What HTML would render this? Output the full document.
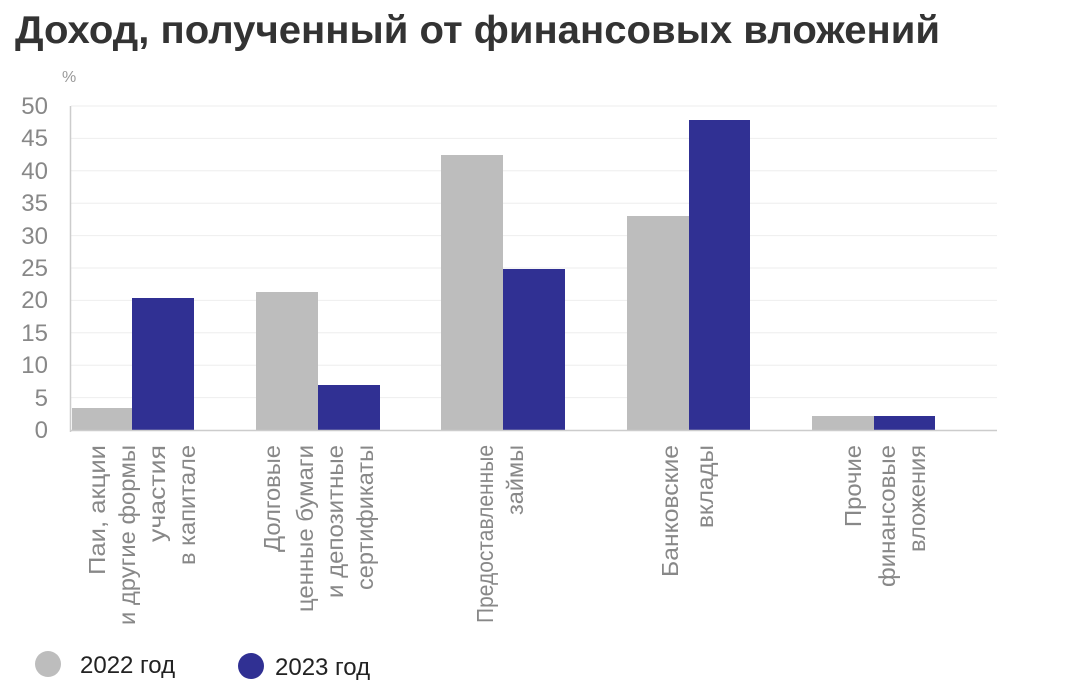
<!DOCTYPE html>
<html><head><meta charset="utf-8"><style>
body{margin:0;background:#fff;width:1080px;height:692px;overflow:hidden}
svg{display:block;font-family:"Liberation Sans",sans-serif}
</style></head><body>
<svg width="1080" height="692" viewBox="0 0 1080 692">
<text x="15" y="43" font-size="39" font-weight="bold" fill="#333" textLength="925" lengthAdjust="spacingAndGlyphs">Доход, полученный от финансовых вложений</text>
<text x="62" y="82" font-size="16" fill="#999">%</text>
<g stroke="#eee" stroke-width="1">
<line x1="71" x2="997" y1="106" y2="106"/><line x1="71" x2="997" y1="138.4" y2="138.4"/><line x1="71" x2="997" y1="170.8" y2="170.8"/><line x1="71" x2="997" y1="203.2" y2="203.2"/><line x1="71" x2="997" y1="235.6" y2="235.6"/><line x1="71" x2="997" y1="268" y2="268"/><line x1="71" x2="997" y1="300.4" y2="300.4"/><line x1="71" x2="997" y1="332.8" y2="332.8"/><line x1="71" x2="997" y1="365.2" y2="365.2"/><line x1="71" x2="997" y1="397.6" y2="397.6"/>
</g>
<g font-size="24" fill="#888" text-anchor="end">
<text x="48" y="114">50</text><text x="48" y="146">45</text><text x="48" y="179">40</text><text x="48" y="211">35</text><text x="48" y="244">30</text><text x="48" y="276">25</text><text x="48" y="308">20</text><text x="48" y="341">15</text><text x="48" y="373">10</text><text x="48" y="406">5</text><text x="48" y="438">0</text>
</g>
<g fill="#bdbdbd">
<rect x="72" y="408" width="60" height="22"/><rect x="256" y="292" width="62" height="138"/><rect x="441" y="155" width="62" height="275"/><rect x="627" y="216" width="62" height="214"/><rect x="812" y="416" width="62" height="14"/>
</g>
<g fill="#303093">
<rect x="132" y="298" width="62" height="132"/><rect x="318" y="385" width="62" height="45"/><rect x="503" y="269" width="62" height="161"/><rect x="689" y="120" width="61" height="310"/><rect x="874" y="416" width="61" height="14"/>
</g>
<line x1="71" x2="997" y1="430.5" y2="430.5" stroke="#ccc" stroke-width="1.5"/>
<line x1="70.5" x2="70.5" y1="106" y2="432" stroke="#ccc" stroke-width="1.5"/>
<g font-size="23.5" fill="#888" text-anchor="end">
<text transform="translate(105,445) rotate(-90)" textLength="130" lengthAdjust="spacingAndGlyphs">Паи, акции</text>
<text transform="translate(135,445) rotate(-90)" textLength="180" lengthAdjust="spacingAndGlyphs">и другие формы</text>
<text transform="translate(165,445) rotate(-90)" textLength="97" lengthAdjust="spacingAndGlyphs">участия</text>
<text transform="translate(195,445) rotate(-90)" textLength="120" lengthAdjust="spacingAndGlyphs">в капитале</text>
<text transform="translate(280,445) rotate(-90)" textLength="107" lengthAdjust="spacingAndGlyphs">Долговые</text>
<text transform="translate(313,445) rotate(-90)" textLength="167" lengthAdjust="spacingAndGlyphs">ценные бумаги</text>
<text transform="translate(343,445) rotate(-90)" textLength="153" lengthAdjust="spacingAndGlyphs">и депозитные</text>
<text transform="translate(373,445) rotate(-90)" textLength="145" lengthAdjust="spacingAndGlyphs">сертификаты</text>
<text transform="translate(493,445) rotate(-90)" textLength="178" lengthAdjust="spacingAndGlyphs">Предоставленные</text>
<text transform="translate(523,445) rotate(-90)" textLength="70" lengthAdjust="spacingAndGlyphs">займы</text>
<text transform="translate(678,445) rotate(-90)" textLength="132" lengthAdjust="spacingAndGlyphs">Банковские</text>
<text transform="translate(713,445) rotate(-90)" textLength="83" lengthAdjust="spacingAndGlyphs">вклады</text>
<text transform="translate(861,445) rotate(-90)" textLength="82" lengthAdjust="spacingAndGlyphs">Прочие</text>
<text transform="translate(895,445) rotate(-90)" textLength="142" lengthAdjust="spacingAndGlyphs">финансовые</text>
<text transform="translate(925,445) rotate(-90)" textLength="107" lengthAdjust="spacingAndGlyphs">вложения</text>
</g>
<circle cx="48" cy="664" r="13" fill="#bdbdbd"/>
<text x="80" y="673" font-size="24" fill="#222">2022 год</text>
<circle cx="251" cy="666" r="13" fill="#303093"/>
<text x="275" y="675" font-size="24" fill="#222">2023 год</text>
</svg>
</body></html>
